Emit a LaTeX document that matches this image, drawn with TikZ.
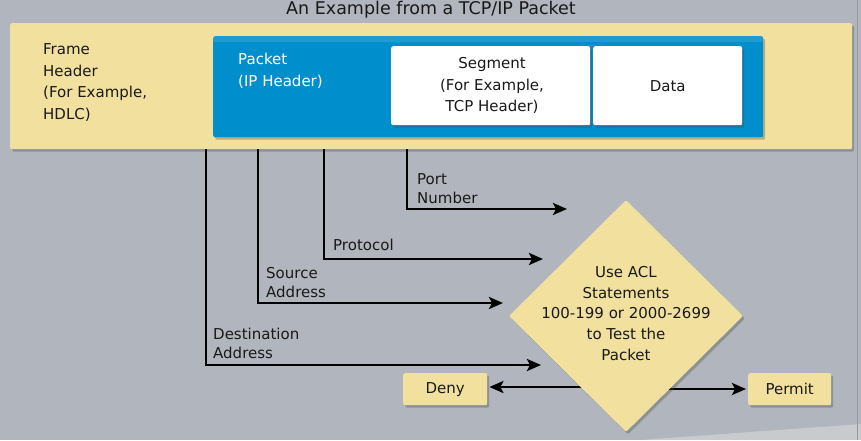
\documentclass[tikz,border=0pt]{standalone}
\usepackage{fontspec}
\setmainfont{DejaVu Sans}
\usetikzlibrary{shadows,arrows.meta,shapes.geometric}
\definecolor{bggray}{RGB}{177,181,189}
\definecolor{frameyellow}{RGB}{242,225,158}
\definecolor{pktblue}{RGB}{0,142,204}
\definecolor{txt}{RGB}{25,25,25}
\begin{document}
\begin{tikzpicture}[x=1pt,y=-1pt,
  shd/.style={drop shadow={shadow xshift=2pt,shadow yshift=-2.5pt,opacity=0.35,fill=black!70}},
  boxstyle/.style={rounded corners=2pt,inner sep=0pt,anchor=north west,shd},
  bodytext/.style={font=\fontsize{15}{21.5}\selectfont,text=txt,align=center},
  lbl/.style={font=\fontsize{15}{19}\selectfont,text=txt,align=left,inner sep=0pt,anchor=west},
  conn/.style={line width=2.7pt,draw=black},
  arr/.style={conn,-{Stealth[length=14pt,width=12pt,inset=3pt]}}
]
\fill[bggray] (0,0) rectangle (861,440);
\useasboundingbox (0,0) rectangle (861,440);
\fill[black!12,opacity=0.5] (640,440) -- (861,424) -- (861,440) -- cycle;
\draw[black!40,line width=1pt] (857,0) -- (857,440);

% title
\node[font=\fontsize{17.5}{20}\selectfont,text=txt] (title) at (431,10) {An Example from a TCP/IP Packet};

% frame
\node[boxstyle,fill=frameyellow,minimum width=842pt,minimum height=126pt] (frame) at (10,23) {};
\node[bodytext,align=left,anchor=west,inner sep=0pt] (fhdr) at (43,82.5) {Frame\\Header\\(For Example,\\HDLC)};

% packet
\node[boxstyle,fill=pktblue,minimum width=550pt,minimum height=101pt] (pkt) at (213,36) {};
\fill[white,opacity=0.12,rounded corners=2pt] (pkt.north west) rectangle ([yshift=-6pt]pkt.north east);
\node[bodytext,text=white,align=left,anchor=west,inner sep=0pt] (pkttxt) at (238,71) {Packet\\(IP Header)};

% segment and data
\node[boxstyle,fill=white,minimum width=199pt,minimum height=79pt] (seg) at (391,46) {};
\node[bodytext] (segtxt) at (492,85.5) {Segment\\(For Example,\\TCP Header)};
\node[boxstyle,fill=white,minimum width=149pt,minimum height=79pt] (data) at (593,46) {};
\node[bodytext] (datatxt) at (data.center) {Data};

% arrow end points
\coordinate (pEnd) at (567,209);
\coordinate (prEnd) at (543,259);
\coordinate (sEnd) at (503,303);
\coordinate (dEnd) at (541,365);
\coordinate (pX) at (407,0);
\coordinate (prX) at (324,0);
\coordinate (sX) at (258,0);
\coordinate (dX) at (206,0);

\draw[arr] (frame.south -| pX) |- (pEnd);
\draw[arr] (frame.south -| prX) |- (prEnd);
\draw[arr] (frame.south -| sX) |- (sEnd);
\draw[arr] (frame.south -| dX) |- (dEnd);

\node[lbl] (lport) at (417,188.5) {Port\\Number};
\node[lbl] (lproto) at (333,245) {Protocol};
\node[lbl] (lsrc) at (266,282.5) {Source\\Address};
\node[lbl] (ldst) at (213,343.5) {Destination\\Address};

% deny / permit
\node[boxstyle,fill=frameyellow,minimum width=84pt,minimum height=32pt] (deny) at (403,373) {};
\node[bodytext] (denytxt) at (deny.center) {Deny};
\node[boxstyle,fill=frameyellow,minimum width=83pt,minimum height=32pt] (permit) at (748,373) {};
\node[bodytext] (permittxt) at (permit.center) {Permit};

\coordinate (dl) at (600,387);
\coordinate (pr) at (660,389);
\draw[arr,shorten >=2pt] (dl) -- (dl -| deny.east);
\draw[arr,shorten >=2pt] (pr) -- (pr -| permit.west);

% diamond
\node[shape=diamond,fill=frameyellow,minimum width=234pt,minimum height=232pt,inner sep=0pt,shd,rounded corners=2pt] (dia) at (626,316) {};
\node[bodytext,font=\fontsize{15}{20.8}\selectfont] (diatxt) at (626,313.5) {Use ACL\\Statements\\100-199 or 2000-2699\\to Test the\\Packet};
\end{tikzpicture}
\end{document}
